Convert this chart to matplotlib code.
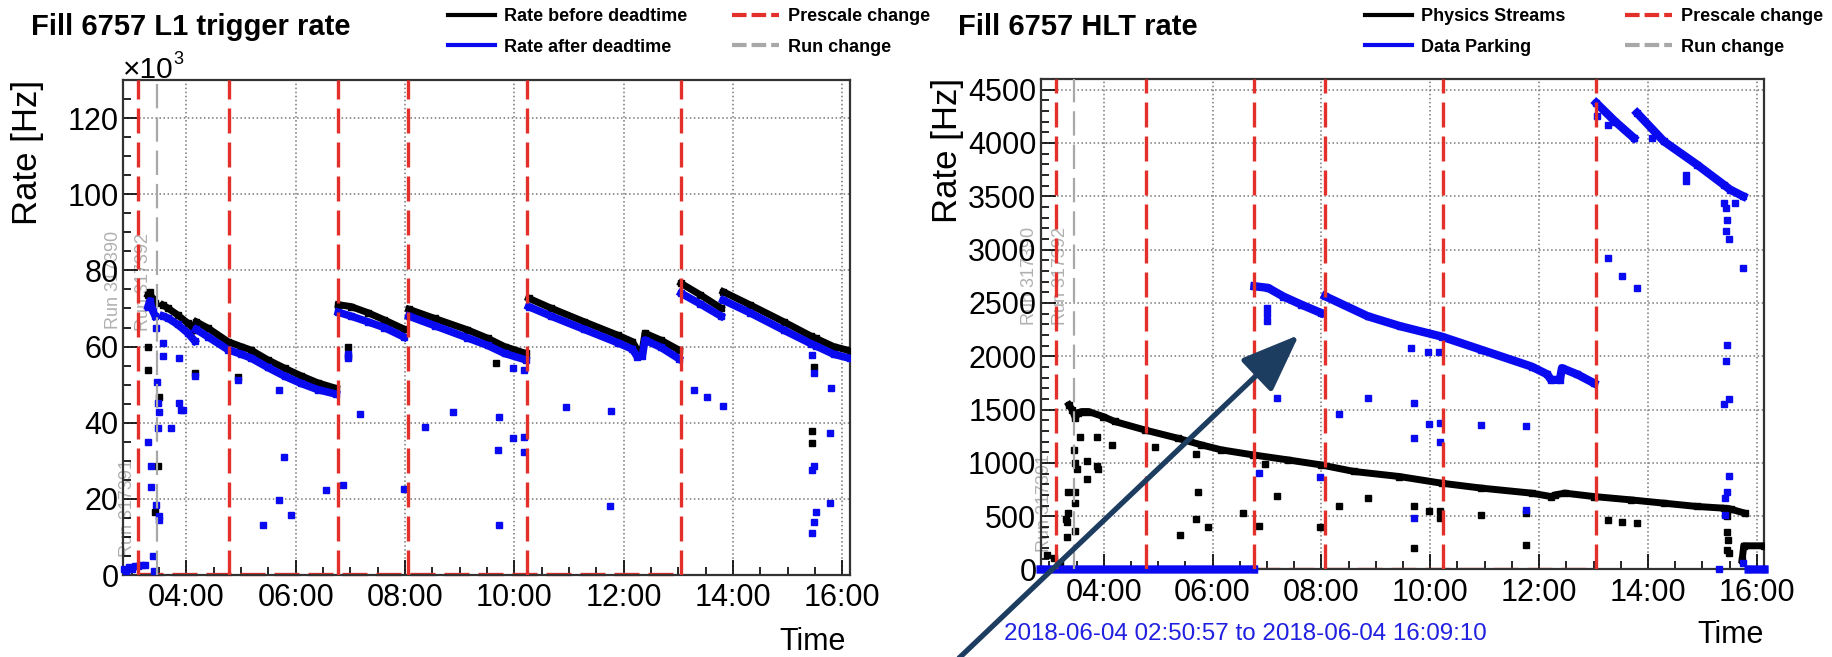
import numpy as np
import matplotlib
matplotlib.use('Agg')
import matplotlib.pyplot as plt
from matplotlib.ticker import MultipleLocator, FuncFormatter
from matplotlib.lines import Line2D
from matplotlib.patches import FancyArrowPatch

plt.rcParams['font.family'] = ['Liberation Sans', 'DejaVu Sans']

nan = np.nan

# ---- common: time in hours of 2018-06-04
x_range = (2.84, 16.14)
prescale_changes = [3.12, 4.78, 6.77, 8.06, 10.24, 13.04]
run_changes = [3.46]

# ---- L1 trigger rate (x10^3 Hz)
l1_before_t = [3.30, 3.33, 3.38, 3.43, nan,
               3.57, 3.66, 3.84, 4.03, 4.15, nan,
               4.18, 4.40, 4.76, 5.00, 5.18, 5.49, 5.80, 6.10, 6.40, 6.74, nan,
               6.78, 7.01, 7.32, 7.62, 7.98, nan,
               8.07, 8.54, 9.14, 9.51, 9.82, 10.21, nan,
               10.26, 10.67, 11.28, 11.89, 12.16, 12.25, 12.34, 12.39, 12.68, 13.01, nan,
               13.05, 13.40, 13.78, nan,
               13.82, 14.32, 14.93, 15.42, 15.51, 15.84, 16.14]
l1_before_v = [73.5, 74.2, 72.5, 71.5, nan,
               70.9, 70.1, 68.3, 66.1, 64.4, nan,
               66.5, 64.8, 61.3, 60.0, 59.1, 56.5, 54.3, 52.3, 50.5, 49.0, nan,
               71.0, 70.5, 68.9, 67.0, 64.6, nan,
               69.8, 67.4, 64.4, 62.2, 60.0, 58.2, nan,
               72.7, 70.1, 66.5, 63.0, 61.3, 59.1, 59.1, 63.5, 61.7, 59.1, nan,
               76.6, 73.6, 70.1, nan,
               74.4, 70.9, 66.5, 62.8, 62.2, 60.0, 58.9]
l1_after_t = l1_before_t
l1_after_v = [70.5, 72.0, 69.5, 68.0, nan,
              68.0, 67.5, 65.8, 63.5, 61.5, nan,
              64.5, 62.5, 59.2, 58.0, 57.0, 54.5, 52.2, 50.3, 48.7, 47.5, nan,
              69.0, 68.0, 66.5, 65.0, 62.5, nan,
              68.0, 65.5, 62.3, 60.3, 58.2, 56.5, nan,
              70.5, 68.0, 64.5, 61.0, 59.3, 57.3, 57.5, 61.7, 59.8, 56.8, nan,
              74.0, 71.2, 68.0, nan,
              72.2, 68.8, 64.3, 60.8, 60.2, 58.0, 56.9]
l1_out_black_t = [3.29, 3.29, 3.42, 3.49, 3.48, 4.16, 4.94, 6.95, 6.95, 9.67, 15.45, 15.45, 15.48]
l1_out_black_v = [60.0, 53.9, 16.6, 46.8, 28.5, 53.0, 52.1, 60.0, 57.5, 55.6, 37.7, 34.6, 54.7]
l1_out_blue_t = [2.86, 2.90, 2.95, 3.00, 3.06, 3.12, 3.18, 3.24, 3.40, 3.29, 3.36, 3.36, 3.39,
                 3.45, 3.47, 3.48, 3.49, 3.48, 3.49, 3.49, 3.45, 3.57, 3.57, 3.87, 3.71, 3.87,
                 3.90, 3.93, 4.16, 4.94, 5.70, 5.78, 5.70, 5.92, 5.40, 6.56, 6.86, 7.18, 6.95,
                 6.95, 7.99, 8.37, 8.87, 9.71, 9.70, 9.71, 9.97, 9.97, 10.17, 10.17, 10.17,
                 10.94, 11.77, 11.75, 13.28, 13.53, 13.81, 15.80, 15.77, 15.77, 15.45, 15.48,
                 15.48, 15.45, 15.51, 15.48, 15.45]
l1_out_blue_v = [1.5, 1.0, 2.0, 1.5, 2.3, 2.4, 2.6, 2.5, 1.0, 35.0, 28.5, 23.0, 5.0,
                 18.4, 50.8, 45.1, 42.9, 38.5, 14.5, 15.5, 65.0, 61.0, 57.5, 57.1, 38.5, 45.1,
                 43.3, 43.3, 52.2, 51.3, 48.6, 30.9, 19.7, 15.7, 13.1, 22.2, 23.6, 42.2, 58.0,
                 57.0, 22.7, 39.0, 42.9, 41.6, 32.8, 13.1, 54.3, 35.9, 53.9, 36.3, 32.4,
                 44.0, 43.2, 18.1, 48.6, 46.8, 44.4, 49.0, 37.4, 19.0, 57.8, 53.0,
                 28.5, 27.6, 16.6, 14.0, 11.0]

# ---- HLT rate (Hz)
phys_t = [3.36, 3.42, 3.48, 3.52, 3.60, 3.72, 3.99, 4.20, 4.75, 5.36, 5.79, 6.16, 6.74,
          7.38, 7.99, 8.60, 9.43, 10.21, 10.94, 11.86, 12.22, 12.30, 12.47, 13.01, 13.68,
          14.29, 14.90, 15.39, 15.45, nan, 15.52, 15.78, nan, 15.73, 15.76, 16.14]
phys_v = [1544, 1497, 1419, 1470, 1481, 1481, 1434, 1388, 1309, 1231, 1169, 1122, 1075,
          1028, 981, 919, 872, 809, 763, 716, 684, 700, 716, 684, 653,
          622, 591, 575, 560, nan, 566, 528, nan, 90, 222, 222]
phys_out_t = [3.57, 3.87, 4.15, 4.95, 5.70, 3.45, 3.48, 3.51, 3.69, 3.87, 3.90, 3.70, 3.48,
              3.34, 3.47, 3.34, 3.30, 3.33, 3.48, 3.33, 5.74, 5.70, 5.92, 5.40, 6.56, 6.85,
              6.97, 7.18, 7.98, 8.33, 8.85, 2.96, 3.08, 3.20, 9.71, 9.71, 9.97, 10.17, 10.17,
              10.94, 11.75, 11.75, 13.27, 13.53, 13.80, 15.45, 15.46, 15.47, 15.45, 15.48]
phys_out_v = [1241, 1241, 1169, 1153, 1084, 1122, 997, 941, 1019, 972, 941, 847, 722,
              722, 622, 534, 472, 441, 363, 300, 728, 472, 394, 325, 534, 409,
              987, 691, 394, 597, 666, 138, 106, 60, 600, 206, 544, 544, 481,
              512, 528, 231, 466, 450, 434, 497, 356, 278, 184, 153]
park_t = [2.84, 6.76, nan,
          6.77, 7.02, 7.30, 7.63, 7.99, nan,
          8.07, 8.85, 9.45, 10.21, 10.94, 11.86, 12.15, 12.22, 12.38, 12.42, 12.70, 13.01, nan,
          13.05, 13.40, 13.74, nan,
          13.80, 14.29, 14.90, 15.39, 15.51, 15.75, nan,
          15.85, 16.14]
park_v = [0, 0, nan,
          2656, 2641, 2560, 2484, 2406, nan,
          2562, 2375, 2281, 2184, 2060, 1903, 1830, 1778, 1778, 1888, 1830, 1747, nan,
          4375, 4200, 4047, nan,
          4281, 4016, 3797, 3609, 3562, 3500, nan,
          0, 0]
park_out_t = [13.07, 13.26, 14.08, 14.70, 14.70, 15.40, 15.43, 15.45, 15.43, 15.48, 13.27,
              13.53, 13.80, 15.75, 15.60, 9.65, 9.96, 10.16, 9.71, 9.97, 10.18, 9.70, 10.17,
              10.94, 11.75, 9.71, 11.75, 15.45, 15.44, 15.40, 15.48, 15.48, 15.45, 15.42,
              15.42, 15.30, 15.75, 6.85, 7.98, 7.18, 8.33, 8.85, 7.00, 7.00, 7.00]
park_out_v = [4250, 4172, 4047, 3700, 3640, 3440, 3390, 3281, 3172, 3100, 2922,
              2750, 2640, 2828, 3440, 2076, 2044, 2037, 1559, 1365, 1378, 1237, 1197,
              1356, 1341, 481, 559, 2103, 1953, 1556, 1603, 880, 731, 668,
              512, 0, 65, 903, 872, 1612, 1456, 1612, 2450, 2400, 2330]

BLUE = '#0a0af0'
RED = '#e3302a'
GRAY = '#a8a8a8'


def hhmm(h, pos):
    return '%02d:00' % int(round(h))


def setup_axes(ax, ylim, ymajor, yminor):
    ax.set_xlim(*x_range)
    ax.set_ylim(*ylim)
    ax.xaxis.set_major_locator(MultipleLocator(2))
    ax.xaxis.set_minor_locator(MultipleLocator(0.5))
    ax.xaxis.set_major_formatter(FuncFormatter(hhmm))
    ax.yaxis.set_major_locator(MultipleLocator(ymajor))
    ax.yaxis.set_minor_locator(MultipleLocator(yminor))
    ax.tick_params(which='both', direction='in', top=False, right=False,
                   labelsize=22, width=1.2, pad=3)
    ax.tick_params(which='major', length=11)
    ax.tick_params(which='minor', length=6)
    ax.tick_params(axis='x', pad=6)
    ax.grid(True, which='major', linestyle=':', color='#777777', lw=1.1)
    for s in ax.spines.values():
        s.set_linewidth(1.6)
        s.set_color('#333333')
    for t in prescale_changes:
        ax.axvline(t, color=RED, lw=2.4, dashes=(7.5, 2.7), zorder=4)
    for t in run_changes:
        ax.axvline(t, color=GRAY, lw=1.6, dashes=(11, 4), zorder=4)


fig = plt.figure(figsize=(18.33, 6.57), dpi=100)

# ---------------- left: L1 rate
ax1 = fig.add_axes([0.0671, 0.1248, 0.3966, 0.7534])
setup_axes(ax1, (0, 130), 20, 5)
ax1.plot([3.12, 13.04], [0.15, 0.15], color=RED, lw=2.4, dashes=(7.5, 2.7), zorder=2, clip_on=False)
ax1.plot(l1_before_t, l1_before_v, color='black', lw=5, marker='s', ms=4.5, zorder=3)
ax1.plot(l1_after_t, l1_after_v, color=BLUE, lw=5.5, marker='s', ms=4.5, zorder=3)
ax1.plot(l1_out_black_t, l1_out_black_v, 's', color='black', ms=4.5, zorder=3)
ax1.plot(l1_out_blue_t, l1_out_blue_v, 's', color=BLUE, ms=4.5, zorder=3, clip_on=False)
for txt, t, v in [('Run 317390', 2.66, 77.5), ('Run 317392', 3.22, 77.0), ('Run 317391', 2.93, 17.6)]:
    ax1.text(t, v, txt, rotation=90, ha='center', va='center', fontsize=13,
             color='#b0b0b0', clip_on=False, zorder=1)

# ---------------- right: HLT rate
ax2 = fig.add_axes([0.5677, 0.1332, 0.3949, 0.7466])
setup_axes(ax2, (0, 4600), 500, 100)
ax2.plot([6.78, 13.05], [8, 8], color=RED, lw=2.4, dashes=(7.5, 2.7), zorder=2)
ax2.plot(phys_t, phys_v, color='black', lw=5, marker='s', ms=4.5, zorder=3)
ax2.plot(phys_out_t, phys_out_v, 's', color='black', ms=4.5, zorder=3)
ax2.plot(park_t, park_v, color=BLUE, lw=6, marker='s', ms=4.5, zorder=3, clip_on=False)
ax2.plot(park_out_t, park_out_v, 's', color=BLUE, ms=4.5, zorder=3, clip_on=False)
for txt, t, v in [('Run 317390', 2.64, 2753), ('Run 317392', 3.21, 2753), ('Run 317391', 2.91, 625)]:
    ax2.text(t, v, txt, rotation=90, ha='center', va='center', fontsize=13,
             color='#b0b0b0', clip_on=False, zorder=1)

# ---------------- texts
fig.text(31 / 1833, 1 - 35 / 657, 'Fill 6757 L1 trigger rate', fontsize=21, fontweight='bold',
         va='baseline', ha='left')
fig.text(958 / 1833, 1 - 35 / 657, 'Fill 6757 HLT rate', fontsize=21, fontweight='bold',
         va='baseline', ha='left')
fig.text(28 / 1833, 1 - 152 / 657, 'Rate [Hz]', rotation=90, fontsize=25, ha='center', va='center')
fig.text(948 / 1833, 1 - 150 / 657, 'Rate [Hz]', rotation=90, fontsize=25, ha='center', va='center')
fig.text(846 / 1833, 1 - 650 / 657, 'Time', fontsize=22, ha='right', va='baseline')
fig.text(1764 / 1833, 1 - 643 / 657, 'Time', fontsize=22, ha='right', va='baseline')
fig.text(123 / 1833, 1 - 78 / 657, '\u00d710', fontsize=21.5, ha='left', va='baseline')
fig.text(173 / 1833, 1 - 64 / 657, '3', fontsize=13, ha='left', va='baseline')
fig.text(1004 / 1833, 1 - 640 / 657, '2018-06-04 02:50:57 to 2018-06-04 16:09:10',
         fontsize=17.4, color='#2020e0', ha='left', va='baseline')

# ---------------- legends
leg_kw = dict(frameon=False, ncol=2, prop={'weight': 'bold', 'size': 13},
              handlelength=2.6, handletextpad=0.5, labelspacing=0.75, borderpad=0,
              borderaxespad=0, loc='upper left', bbox_transform=fig.transFigure)
h_black = Line2D([], [], color='black', lw=3)
h_blue = Line2D([], [], color=BLUE, lw=3)
h_red = Line2D([], [], color=RED, lw=3, dashes=(3.5, 1.2))
h_gray = Line2D([], [], color=GRAY, lw=3, dashes=(3.5, 1.2))
leg1 = ax1.legend([h_black, h_blue, h_red, h_gray],
                  ['Rate before deadtime', 'Rate after deadtime', 'Prescale change', 'Run change'],
                  bbox_to_anchor=(448 / 1833, 1 - 8 / 657), columnspacing=2.5, **leg_kw)
leg2 = ax2.legend([h_black, h_blue, h_red, h_gray],
                  ['Physics Streams', 'Data Parking', 'Prescale change', 'Run change'],
                  bbox_to_anchor=(1365 / 1833, 1 - 8 / 657), columnspacing=3.3, **leg_kw)

# ---------------- arrow
arrow = FancyArrowPatch((957 / 1833, 1 - 660 / 657), (1301 / 1833, 1 - 333 / 657),
                        transform=fig.transFigure, arrowstyle='-|>,head_length=3.6,head_width=1.4',
                        mutation_scale=10, lw=3.8, color='#1d3d60', zorder=10)
fig.add_artist(arrow)

fig.savefig('out.png', dpi=100)
